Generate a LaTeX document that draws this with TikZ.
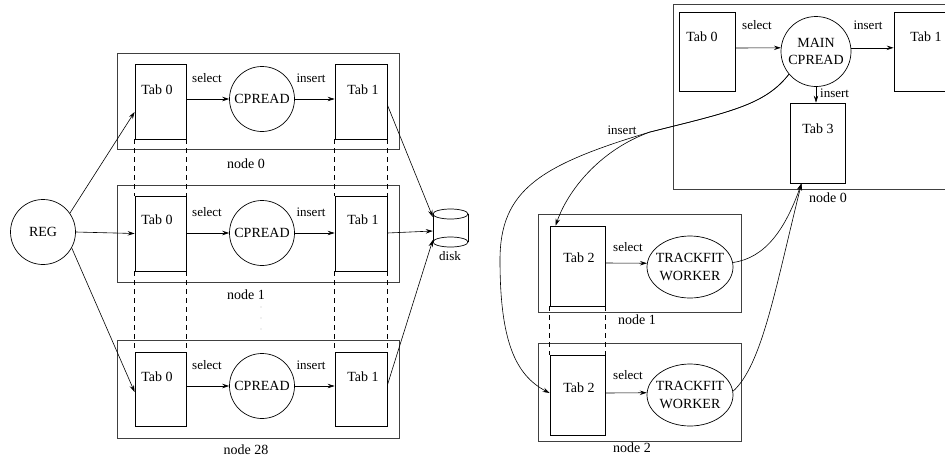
\documentclass[tikz,border=0pt]{standalone}
\usepackage{fontspec}
\setmainfont{Liberation Serif}
\usetikzlibrary{arrows.meta,shapes.geometric,calc}
\begin{document}
\begin{tikzpicture}[x=1pt,y=-1pt,
  font=\fontsize{14}{18}\selectfont,
  lab/.style={font=\fontsize{13}{15}\selectfont, inner sep=0},
  txt/.style={inner sep=0, align=center},
  outer/.style={draw=black!75, line width=1pt, inner sep=0},
  tabbox/.style={draw, line width=0.8pt, inner sep=0},
  proc/.style={draw, circle, line width=0.7pt, minimum size=65pt, inner sep=0, align=center},
  worker/.style={draw, ellipse, line width=0.7pt, minimum width=86pt, minimum height=62pt, inner sep=0},
  arr/.style={-{Stealth[length=7pt,width=4.5pt,inset=2.5pt]}, line width=0.6pt},
  conn/.style={line width=0.6pt},
  dsh/.style={line width=0.7pt, dash pattern=on 5pt off 4pt}]
\useasboundingbox (0,0) rectangle (945,456);
\clip (0,0) rectangle (945,456);

% ---------- left part ----------
\node[proc] (REG) at (43,232) {REG};

\foreach \r/\bc/\bh/\tc/\th/\ty/\cy/\ly/\nm in
  {a/101/96/101.5/75/90/99/164/node 0,
   b/233.5/97/233.5/75/220/233/295/node 1,
   c/389/98/389/74/377/386/450/node 28}{
  \node[outer, minimum width=282pt, minimum height=\bh pt] (box\r) at (258,\bc) {};
  \node[tabbox, minimum width=51pt, minimum height=\th pt] (ta\r) at (160.5,\tc) {};
  \node[tabbox, minimum width=52pt, minimum height=\th pt] (tb\r) at (361,\tc) {};
  \node[txt] (taT\r) at (157,\ty) {Tab 0};
  \node[txt] (tbT\r) at (363,\ty) {Tab 1};
  \node[proc] (cp\r) at (262,\cy) {CPREAD};
  \draw[arr] (ta\r.east |- cp\r.center) -- (cp\r.west);
  \draw[arr] (cp\r.east) -- (tb\r.west |- cp\r.center);
  \node[lab] (sel\r) at (207,\cy-21) {select};
  \node[lab] (ins\r) at (311,\cy-21) {insert};
  \node[txt] (lbl\r) at (246,\ly) {\nm};
}

% dashed continuation of the shared tables
\foreach \p/\q in {a/b,b/c}{
  \draw[dsh] (ta\p.south west) -- (ta\q.north west);
  \draw[dsh] (ta\p.south east) -- (ta\q.north east);
  \draw[dsh] (tb\p.south west) -- (tb\q.north west);
  \draw[dsh] (tb\p.south east) -- (tb\q.north east);
}
\foreach \yy in {307,318,329} \fill[black!25] (261,\yy) circle (0.6);

% disk
\node[inner sep=0, minimum width=35pt, minimum height=38pt] (disk) at (450.5,228) {};
\draw[line width=0.7pt] (433,214) -- (433,242) (468,214) -- (468,242);
\draw[line width=0.7pt] (450.5,214) ellipse [x radius=17.5, y radius=5];
\draw[line width=0.7pt] (450.5,242) ellipse [x radius=17.5, y radius=5];
\node[lab] (diskT) at (450,256) {disk};

% REG -> Tab 0
\draw[arr] (REG.35) -- ([yshift=-10.5pt]taa.west);
\draw[arr] (REG.east) -- (tab.west);
\draw[arr] (REG.-29) -- ([yshift=-3pt]tac.west);
% Tab 1 -> disk
\draw[arr] ([yshift=-3.5pt]tba.east) -- ([yshift=11pt]disk.west);
\draw[arr] ([yshift=0.5pt]tbb.east) -- ([yshift=-3pt]disk.west);
\draw[arr] ([yshift=4pt]tbc.east) -- ([yshift=-12pt]disk.west);

% ---------- right part ----------
\node[outer, minimum width=287pt, minimum height=185pt] (rbox0) at (816.5,96.5) {};
\node[tabbox, minimum width=56pt, minimum height=79pt] (rt0) at (707,51.5) {};
\node[txt] (rt0T) at (702,37) {Tab 0};
\node[proc, minimum size=70pt, font=\fontsize{14}{17}\selectfont] (main) at (816,51.5) {MAIN\\CPREAD};
\node[tabbox, minimum width=66pt, minimum height=79pt] (rt1) at (927,51.5) {};
\node[txt] (rt1T) at (926,37) {Tab 1};
\node[tabbox, minimum width=55pt, minimum height=80pt] (rt3) at (817.5,143) {};
\node[txt] (rt3T) at (818,129) {Tab 3};
\node[lab] (rsel0) at (757,25) {select};
\node[lab] (rins0) at (868,25) {insert};
\node[lab, anchor=west] (rins3) at (820,93) {insert};
\node[txt] (rlbl0) at (828,198) {node 0};
\draw[arr] ([yshift=3.5pt]rt0.east) -- (main.174);
\draw[arr] (main.6) -- (rt1.west |- main.6);
\draw[arr] (main.south) -- (main.south |- rt3.north);

\node[outer, minimum width=203pt, minimum height=98pt] (rbox1) at (639.5,263) {};
\node[tabbox, minimum width=55pt, minimum height=80pt] (rt2a) at (577.5,266) {};
\node[txt] (rt2aT) at (579,258) {Tab 2};
\node[worker] (w1) at (690,267) {};
\node[txt] (w1T) at (690,267) {TRACKFIT\\WORKER};
\node[lab] (rsel1) at (628,247) {select};
\node[txt] (rlbl1) at (637,320) {node 1};
\draw[arr] ([yshift=3pt]rt2a.east) -- (w1.175);

\node[outer, minimum width=203pt, minimum height=98pt] (rbox2) at (639.5,392) {};
\node[tabbox, minimum width=55pt, minimum height=80pt] (rt2b) at (577.5,395) {};
\node[txt] (rt2bT) at (579,388) {Tab 2};
\node[worker] (w2) at (690,395) {};
\node[txt] (w2T) at (690,395) {TRACKFIT\\WORKER};
\node[lab] (rsel2) at (628,375) {select};
\node[txt] (rlbl2) at (632,448) {node 2};
\draw[arr] ([yshift=2pt]rt2b.east) -- (w2.177);

\draw[dsh] (rt2a.south west) -- (rt2b.north west);
\draw[dsh] (rt2a.south east) -- (rt2b.north east);

% insert curves from MAIN CPREAD
\node[lab] (rinsc) at (622,130) {insert};
\draw[arr] (main.220) .. controls (765,105) and (730,112) .. (650,132)
  .. controls (540,165) and (500,190) .. (500,260)
  .. controls (500,340) and (515,375) .. ([yshift=2pt]rt2b.west);
\draw[arr] (main.220) .. controls (765,105) and (730,112) .. (650,132)
  .. controls (600,150) and (568,190) .. ([xshift=6pt]rt2a.north west);

% workers -> Tab 3
\coordinate (t3in) at ([xshift=-16pt]rt3.south);
\draw[arr] (w1.6) .. controls (765,258) and (785,230) .. (t3in);
\draw[arr] (w2.5) .. controls (762,365) and (775,290) .. (t3in);
\end{tikzpicture}
\end{document}
